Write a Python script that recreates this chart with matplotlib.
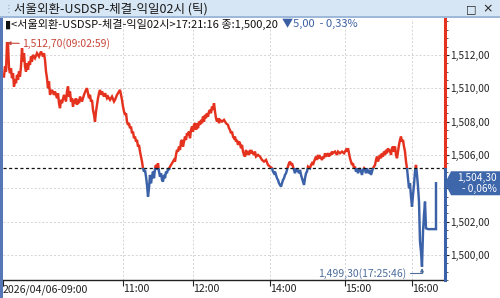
import matplotlib
matplotlib.use("Agg")
import matplotlib.pyplot as plt
from matplotlib.patches import Rectangle, Polygon
import numpy as np

plt.rcParams['font.family'] = ['Noto Sans CJK KR', 'DejaVu Sans']

# ---- data (tick chart: x = tick position, y = price) ----
tick_pos = [4, 5, 6, 7, 8, 9, 10, 11, 12, 13, 14, 15, 16, 17, 18, 19, 20, 21, 22, 23, 24, 25, 26, 27, 28, 29,
            30, 31, 32, 33, 35, 37, 39, 41, 43, 44, 45, 46, 47, 48, 49, 50, 52, 54, 55, 57, 58, 59, 60, 61, 62,
            64, 66, 67, 68, 69, 70, 71, 72, 73, 74, 75, 76, 77, 78, 79, 80, 82, 84, 86, 87, 88, 89, 90, 91, 92,
            93, 94, 95, 96, 97, 98, 99, 100, 101, 102, 104, 105, 107, 108, 110, 112, 114, 115, 117, 119, 120,
            121, 122, 123, 124, 125, 126, 127, 128, 129, 130, 131, 132, 133, 134, 135, 136, 137, 138, 139, 140,
            141, 142, 143, 144, 145, 146, 147, 148, 149, 150, 151, 152, 153, 154, 155, 156, 157, 158, 159, 160,
            161, 162, 163, 164, 165, 166, 167, 168, 169, 170, 172, 174, 175, 176, 177, 178, 179, 180, 181, 182,
            183, 184, 185, 186, 187, 188, 189, 190, 191, 192, 193, 194, 195, 196, 197, 198, 199, 200, 201, 202,
            203, 204, 205, 206, 207, 208, 209, 210, 211, 212, 213, 214, 215, 216, 217, 218, 219, 220, 222, 224,
            226, 228, 229, 230, 231, 232, 233, 234, 235, 236, 237, 238, 239, 240, 241, 242, 243, 244, 245, 246,
            247, 248, 249, 250, 251, 252, 254, 255, 256, 258, 260, 262, 264, 266, 268, 270, 272, 273, 274, 275,
            276, 277, 278, 279, 280, 281, 282, 283, 284, 285, 286, 287, 288, 289, 290, 291, 292, 293, 294, 295,
            296, 297, 298, 299, 300, 301, 302, 303, 304, 305, 306, 307, 308, 310, 311, 312, 313, 314, 316, 317,
            318, 319, 320, 322, 323, 324, 325, 326, 327, 328, 329, 330, 331, 332, 333, 335, 337, 338, 340, 342,
            344, 346, 347, 348, 349, 350, 351, 352, 353, 354, 355, 356, 357, 358, 359, 360, 361, 362, 363, 364,
            365, 366, 367, 368, 369, 370, 371, 372, 373, 374, 375, 376, 377, 378, 379, 380, 381, 382, 383, 384,
            385, 386, 387, 388, 389, 390, 391, 392, 393, 394, 395, 396, 397, 398, 399, 400, 401, 402, 403, 404,
            405, 406, 407, 408, 409, 410, 411, 412, 413, 414, 415, 416, 417, 418, 419, 420, 421, 422, 423, 424,
            425, 426, 428, 436, 436]
price = [1510.7, 1511.3, 1511.0, 1512.7, 1512.7, 1511.2, 1510.9, 1511.2, 1510.6, 1510.9, 1510.1, 1510.5, 1510.3,
         1510.8, 1510.5, 1511.0, 1510.7, 1511.3, 1512.4, 1511.6, 1512.1, 1511.3, 1511.0, 1511.5, 1511.1, 1511.6,
         1511.4, 1511.9, 1511.6, 1512.0, 1511.8, 1512.1, 1511.9, 1512.2, 1511.9, 1512.1, 1511.7, 1511.0, 1510.6,
         1510.0, 1510.4, 1509.6, 1509.9, 1509.6, 1509.8, 1509.4, 1509.7, 1509.1, 1508.8, 1509.3, 1509.1,
         1509.6, 1509.2, 1509.8, 1510.1, 1509.5, 1509.8, 1509.2, 1509.4, 1508.9, 1509.3, 1509.1, 1509.4, 1509.0,
         1509.3, 1509.1, 1509.5, 1509.2, 1509.6, 1509.9, 1510.0, 1509.7, 1509.4, 1509.6, 1509.2, 1509.3,
         1508.7, 1508.4, 1508.0, 1508.6, 1509.0, 1509.4, 1509.7, 1509.9, 1509.6, 1509.8, 1509.5, 1509.7, 1509.4,
         1509.5, 1509.3, 1509.5, 1509.2, 1509.3, 1509.6, 1509.8, 1509.9,
         1509.6, 1509.3, 1508.9, 1508.6, 1508.4, 1508.5, 1508.0, 1507.8, 1507.9, 1507.6, 1507.7, 1507.3, 1507.4,
         1507.0, 1507.1, 1506.8, 1506.9, 1506.5, 1506.6, 1506.2,
         1505.9, 1505.6, 1505.2, 1505.0, 1505.1, 1504.7, 1504.2, 1503.5, 1504.0, 1504.8, 1504.3, 1504.7, 1505.0,
         1504.6, 1505.2, 1505.4, 1505.1, 1505.5, 1505.0, 1504.7,
         1504.9, 1504.5, 1504.4, 1504.8, 1504.6, 1505.0, 1504.9, 1505.2, 1505.1, 1505.3, 1505.5, 1505.7, 1505.6,
         1506.0, 1506.3, 1506.2, 1506.5, 1506.3, 1506.8, 1506.9,
         1506.5, 1506.8, 1507.1, 1506.9, 1507.3, 1507.2, 1507.4, 1507.0, 1507.5, 1507.7, 1507.4, 1507.8, 1507.9,
         1507.5, 1507.9, 1507.6, 1508.0, 1507.8, 1508.1, 1507.9,
         1508.3, 1508.0, 1508.4, 1508.2, 1508.5, 1508.3, 1508.6, 1508.7, 1508.5, 1508.9, 1508.7, 1509.1, 1508.6,
         1508.2, 1508.0, 1508.2, 1507.9, 1508.1, 1508.0, 1508.1,
         1507.9, 1507.8, 1507.6, 1507.5, 1507.3, 1507.4, 1507.1, 1507.0, 1507.1, 1506.8, 1506.9, 1506.6, 1506.8,
         1506.7, 1506.4, 1506.6, 1506.2, 1506.0, 1505.9, 1506.3,
         1506.0, 1506.2, 1506.0, 1506.3, 1506.1, 1506.2, 1506.0, 1506.2, 1505.9, 1506.0, 1505.9, 1505.7, 1505.6,
         1505.7, 1505.4, 1505.3, 1505.2, 1505.0, 1504.9, 1505.0,
         1504.8, 1504.6, 1504.5, 1504.3, 1504.2, 1504.1, 1504.3, 1504.5, 1504.6, 1504.8, 1504.9, 1505.1, 1505.3,
         1505.5, 1505.6, 1505.4, 1505.5, 1505.3, 1505.1, 1504.9,
         1505.2, 1505.0, 1505.1, 1504.9, 1505.1, 1504.8, 1504.6, 1504.4, 1504.2, 1504.6, 1504.9, 1505.0, 1505.3,
         1505.2, 1505.4, 1505.5, 1505.4, 1505.6, 1505.9, 1505.7,
         1506.0, 1505.8, 1505.9, 1505.7, 1505.9, 1505.8, 1506.1, 1505.9, 1506.0, 1506.1, 1505.9, 1506.1, 1506.0,
         1506.2, 1506.1, 1506.2, 1506.0, 1506.2, 1506.1, 1506.2,
         1506.1, 1506.3, 1506.2, 1506.4, 1506.1, 1505.8, 1505.6, 1505.4, 1505.5, 1505.2, 1505.3, 1505.0, 1505.2,
         1504.9, 1505.1, 1505.2, 1505.0, 1504.8, 1505.1, 1505.2,
         1505.1, 1504.9, 1505.2, 1505.0, 1504.9, 1505.1, 1504.8, 1505.0, 1505.2, 1505.3, 1505.4, 1505.7, 1505.9,
         1505.6, 1505.8, 1506.0, 1505.8, 1506.1, 1505.9, 1506.2,
         1506.0, 1506.3, 1506.1, 1506.4, 1506.2, 1506.3, 1506.0, 1506.4, 1506.5, 1506.2, 1506.5, 1506.0, 1505.8,
         1506.2, 1506.6, 1506.9, 1507.1, 1506.8, 1506.9, 1506.5,
         1506.2, 1505.6, 1505.2, 1504.6, 1504.0, 1504.3, 1503.5, 1502.9, 1503.6, 1504.2, 1505.0, 1505.4, 1504.8,
         1504.1, 1503.2, 1500.8, 1500.2, 1499.3, 1501.4, 1502.4,
         1503.2, 1501.6, 1501.55, 1501.55, 1504.3]

prev_close = 1505.20
last_price = 1504.30
max_label = "1,512,70(09:02:59)"
min_label = "1,499,30(17:25:46)"
x_tick_pos = [3, 123, 193, 270, 345, 412]
x_tick_labels = ["2026/04/06-09:00", "11:00", "12:00", "14:00", "15:00", "16:00"]
y_major = [1500, 1502, 1504, 1506, 1508, 1510, 1512]
title = "서울외환-USDSP-체결-익일02시 (틱)"
header_black = "▮<서울외환-USDSP-체결-익일02시>17:21:16 종:1,500,20"
header_blue = "▼5,00  - 0,33%"
last_label = ["1,504,30", "- 0,06%"]

RED = "#e5321f"
BLUE = "#3b62a9"

W, H = 500, 298
fig = plt.figure(figsize=(W / 100, H / 100), dpi=100)
fig.patch.set_facecolor("white")

def fx(px):
    return px / W

def fy(py):
    return 1 - py / H

ax_l, ax_r, ax_t, ax_b = 3, 445, 19, 280
ax = fig.add_axes([fx(ax_l), fy(ax_b), fx(ax_r - ax_l), (ax_b - ax_t) / H])
ymin = 1512 - (ax_b - 55) / 16.75
ymax = 1512 + (55 - ax_t) / 16.75
ax.set_xlim(ax_l, ax_r)
ax.set_ylim(ymin, ymax)

# grid
for v in y_major:
    ax.axhline(v, color="#d4d4d4", lw=0.7, ls=(0, (2, 2)), zorder=0)
for v in x_tick_pos[1:]:
    ax.axvline(v, color="#d4d4d4", lw=0.7, ls=(0, (2, 2)), zorder=0)

# price line, red above prev close, blue below
for color, rect in [(RED, (ax_l - 10, prev_close, 600, 50)), (BLUE, (ax_l - 10, prev_close - 50, 600, 50))]:
    ln, = ax.plot(tick_pos, price, color=color, lw=1.75, solid_joinstyle="miter", zorder=3)
    clip = Rectangle(rect[:2], rect[2], rect[3], transform=ax.transData)
    ln.set_clip_path(clip)

ax.axhline(prev_close, color="#111111", lw=0.9, ls=(0, (2.5, 2)), zorder=4)

# spines
for s in ["top", "left", "right"]:
    ax.spines[s].set_visible(False)
ax.spines["bottom"].set_color("#222222")
ax.spines["bottom"].set_linewidth(1.0)
frac = (prev_close - ymin) / (ymax - ymin)
ax.axvline(ax_r, ymin=frac, ymax=1, color=RED, lw=2.2, clip_on=False, zorder=5)
ax.axvline(ax_r, ymin=0, ymax=frac, color=BLUE, lw=2.2, clip_on=False, zorder=5)

# x ticks
ax.set_xticks(x_tick_pos)
ax.set_xticklabels(x_tick_labels, ha="left", fontsize=7.6, color="#222222")
ax.tick_params(axis="x", direction="out", length=4, width=0.8, color="#222222", pad=-1)

# y ticks on right
ax.yaxis.tick_right()
ax.set_yticks(y_major)
ax.set_yticklabels(["" if v == 1504 else f"{v:,}" + ",00" for v in y_major],
                   fontsize=7.3, color="#222222")
ax.set_yticks(np.arange(1498.5, 1514.5, 0.5), minor=True)
ax.tick_params(axis="y", which="major", direction="out", length=3, width=0.8, color="#222222", pad=1)
ax.tick_params(axis="y", which="minor", direction="out", length=2, width=0.6, color="#444444")

# max / min annotations
i_max = int(np.argmax(price))
i_min = int(np.argmin(price))
ax.annotate(max_label, xy=(tick_pos[i_max], price[i_max]), xytext=(22, price[i_max] - 0.05),
            textcoords="data", fontsize=7.5, color="#c8463a", va="center", ha="left",
            arrowprops=dict(arrowstyle="-|>", color="#c8463a", lw=0.8, mutation_scale=5,
                            shrinkA=0, shrinkB=0), zorder=6)
ax.annotate(min_label, xy=(tick_pos[i_min], price[i_min]), xytext=(406, ymin + 0.33),
            textcoords="data", fontsize=7.5, color="#4d6e9c", va="center", ha="right",
            arrowprops=dict(arrowstyle="-|>", color="#4d6e9c", lw=0.8, mutation_scale=5,
                            shrinkA=1, shrinkB=1, connectionstyle="angle,angleA=0,angleB=90,rad=0"),
            zorder=6)

# last price box
y_last = ax.transData.transform((0, last_price))[1]
yl = y_last / H
h_box = 24 / H
poly = Polygon([(fx(445), yl), (fx(451), yl + h_box / 2), (fx(500), yl + h_box / 2),
                (fx(500), yl - h_box / 2), (fx(451), yl - h_box / 2)], closed=True,
               transform=fig.transFigure, facecolor="#3d66ab", edgecolor="none", zorder=10)
fig.patches.append(poly)
fig.text(fx(497), yl + 5 / H, last_label[0], ha="right", va="center", fontsize=7.3, color="white", zorder=11)
fig.text(fx(497), yl - 6 / H, last_label[1], ha="right", va="center", fontsize=7.3, color="white", zorder=11)

# title bar
fig.patches.append(Rectangle((0, fy(17)), 1, 17 / H, transform=fig.transFigure,
                             facecolor="#d7e6f4", edgecolor="none", zorder=1))
fig.patches.append(Rectangle((0, fy(17.5)), 1, 1 / H, transform=fig.transFigure,
                             facecolor="#9db8d8", edgecolor="none", zorder=2))
fig.text(fx(14), fy(9), title, fontsize=9, color="#1a1a1a", va="center", ha="left")
fig.text(fx(4), fy(9), "⋮", fontsize=7, color="#8aa6c8", va="center", ha="left")
fig.text(fx(471), fy(9), "□", fontsize=8, color="#222222", va="center", ha="center",
         family=["DejaVu Sans"])
fig.text(fx(488), fy(9), "×", fontsize=9, color="#222222", va="center", ha="center",
         family=["DejaVu Sans"])

# left blue frame bar
fig.patches.append(Rectangle((0, 0), fx(2.5), fy(18), transform=fig.transFigure,
                             facecolor="#5577b5", edgecolor="none", zorder=2))

# header line
t1 = fig.text(fx(5), fy(24), header_black, fontsize=8, color="#111111", va="center", ha="left")
fig.canvas.draw()
bb = t1.get_window_extent()
fig.text(bb.x1 / W + fx(4), fy(24), header_blue, fontsize=8, color="#3b5fa3", va="center", ha="left")

fig.savefig("out.png", dpi=100)
